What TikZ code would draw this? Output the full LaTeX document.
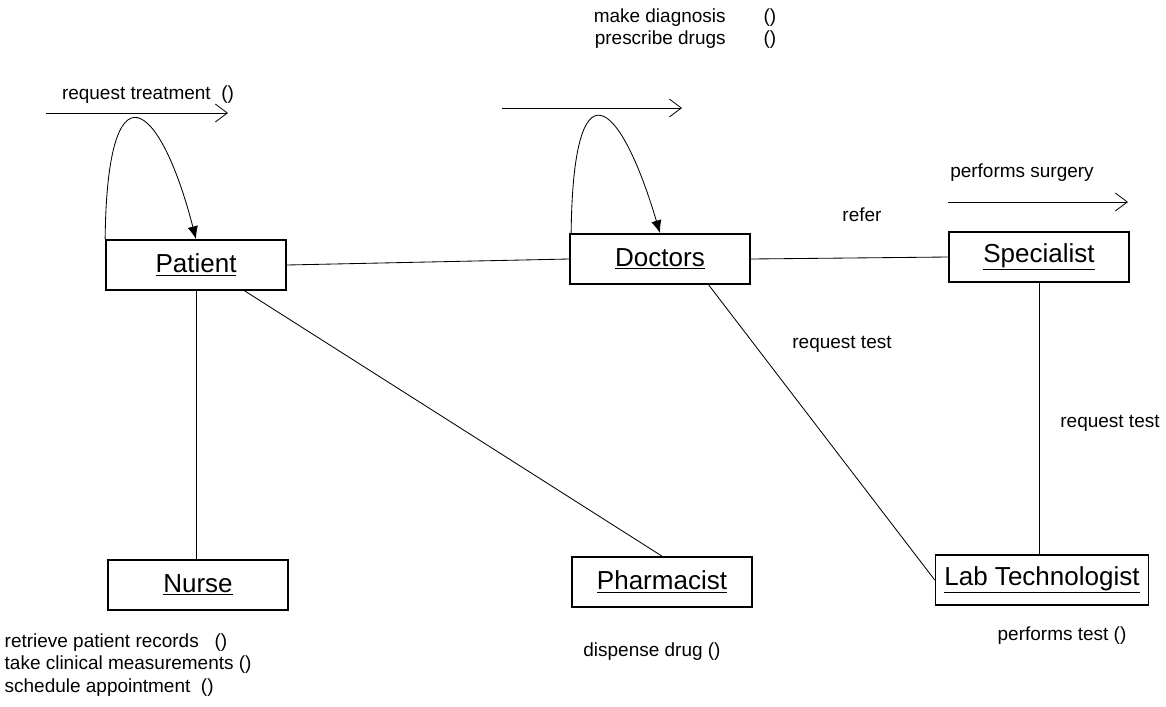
\documentclass[tikz,border=0pt]{standalone}
\usepackage{fontspec}
\setmainfont{Liberation Sans}
\usetikzlibrary{positioning, calc, arrows.meta}
\tikzset{
  %% class / object box
  umlbox/.style={
    rectangle, draw, line width=1.2pt,
    minimum width=4.5cm, minimum height=1.25cm,
    inner xsep=0.22cm, align=center,
    font=\fontsize{18.5}{22}\selectfont
  },
  %% plain association line
  assoc/.style={line width=0.6pt},
  %% message arrow (open barb)
  msgarr/.style={
    -{Straight Barb[length=0.3cm,width=0.45cm]},
    line width=0.6pt
  },
  %% self call loop (filled head)
  selfarr/.style={
    -{Latex[length=0.32cm,width=0.26cm]},
    line width=0.6pt
  },
  lbl/.style={
    font=\fontsize{13.5}{16}\selectfont, inner sep=1pt
  }
}

\begin{document}
\begin{tikzpicture}[x=0.025cm, y=-0.025cm]
\useasboundingbox (0,0) rectangle (1166,706);

%% ==========================================================
%%  OBJECTS
%% ==========================================================

\node[umlbox] (patient)    at (196,265)  {\underline{Patient}};
\node[umlbox] (doctors)    at (660,259)  {\underline{Doctors}};
\node[umlbox] (specialist) at (1039,257) {\underline{Specialist}};
\node[umlbox] (nurse)      at (198,585)  {\underline{Nurse}};
\node[umlbox] (pharmacist) at (662,582)  {\underline{Pharmacist}};
\node[umlbox] (labtech)    at (1042,580) {\underline{Lab Technologist}};

%% ==========================================================
%%  LINKS
%% ==========================================================

\draw[assoc] (patient.east) -- (doctors.west);
\draw[assoc] (doctors.east) -- (specialist.west);
\node[lbl] (referlbl) at (862,215) {refer};
\draw[assoc] (patient.south) -- (patient.south |- nurse.north);
\draw[assoc] (patient.-28.5) -- (pharmacist.north);
\draw[assoc] (doctors.-28.5) -- (labtech.west);
\draw[assoc] (specialist.south) -- (specialist.south |- labtech.north);

\node[lbl] (reqtestA) at (842,344)  {request test};
\node[lbl] (reqtestB) at (1110,423) {request test};

%% ==========================================================
%%  SELF CALLS
%% ==========================================================

\draw[selfarr] (patient.north west)
  .. controls +(2,-180) and +(-36,-140) .. (patient.north);
\draw[selfarr] ($(doctors.north west)+(2,0)$)
  .. controls +(2,-175) and +(-40,-135) .. (doctors.north);

%% ==========================================================
%%  MESSAGES
%% ==========================================================

% Patient
\coordinate (ptmsgS) at (46,113);
\coordinate (ptmsgE) at (228,113);
\draw[msgarr] (ptmsgS) -- (ptmsgE);
\node[lbl] (ptmsg) at (148,95) {request treatment\ \ ()};

% Doctors
\coordinate (drmsgS) at (502,108);
\coordinate (drmsgE) at (682,108);
\draw[msgarr] (drmsgS) -- (drmsgE);
\node[lbl, anchor=east] (drops) at (778,29) {%
  \begin{tabular}{@{}r@{\hspace{0.95cm}}l@{}}
    make diagnosis  & () \\
    prescribe drugs & ()
  \end{tabular}};

% Specialist
\coordinate (spmsgS) at (948,202);
\coordinate (spmsgE) at (1128,202);
\draw[msgarr] (spmsgS) -- (spmsgE);
\node[lbl] (spops) at (1022,173) {performs surgery};

% Nurse
\node[lbl, anchor=north west, align=left] (nrops) at (3,632) {%
  retrieve patient records\ \ \ ()\\
  take clinical measurements ()\\
  schedule appointment\ \ ()};

% Pharmacist
\node[lbl] (phops) at (652,652) {dispense drug ()};

% Lab Technologist
\node[lbl] (ltops) at (1062,636) {performs test ()};

\end{tikzpicture}
\end{document}
